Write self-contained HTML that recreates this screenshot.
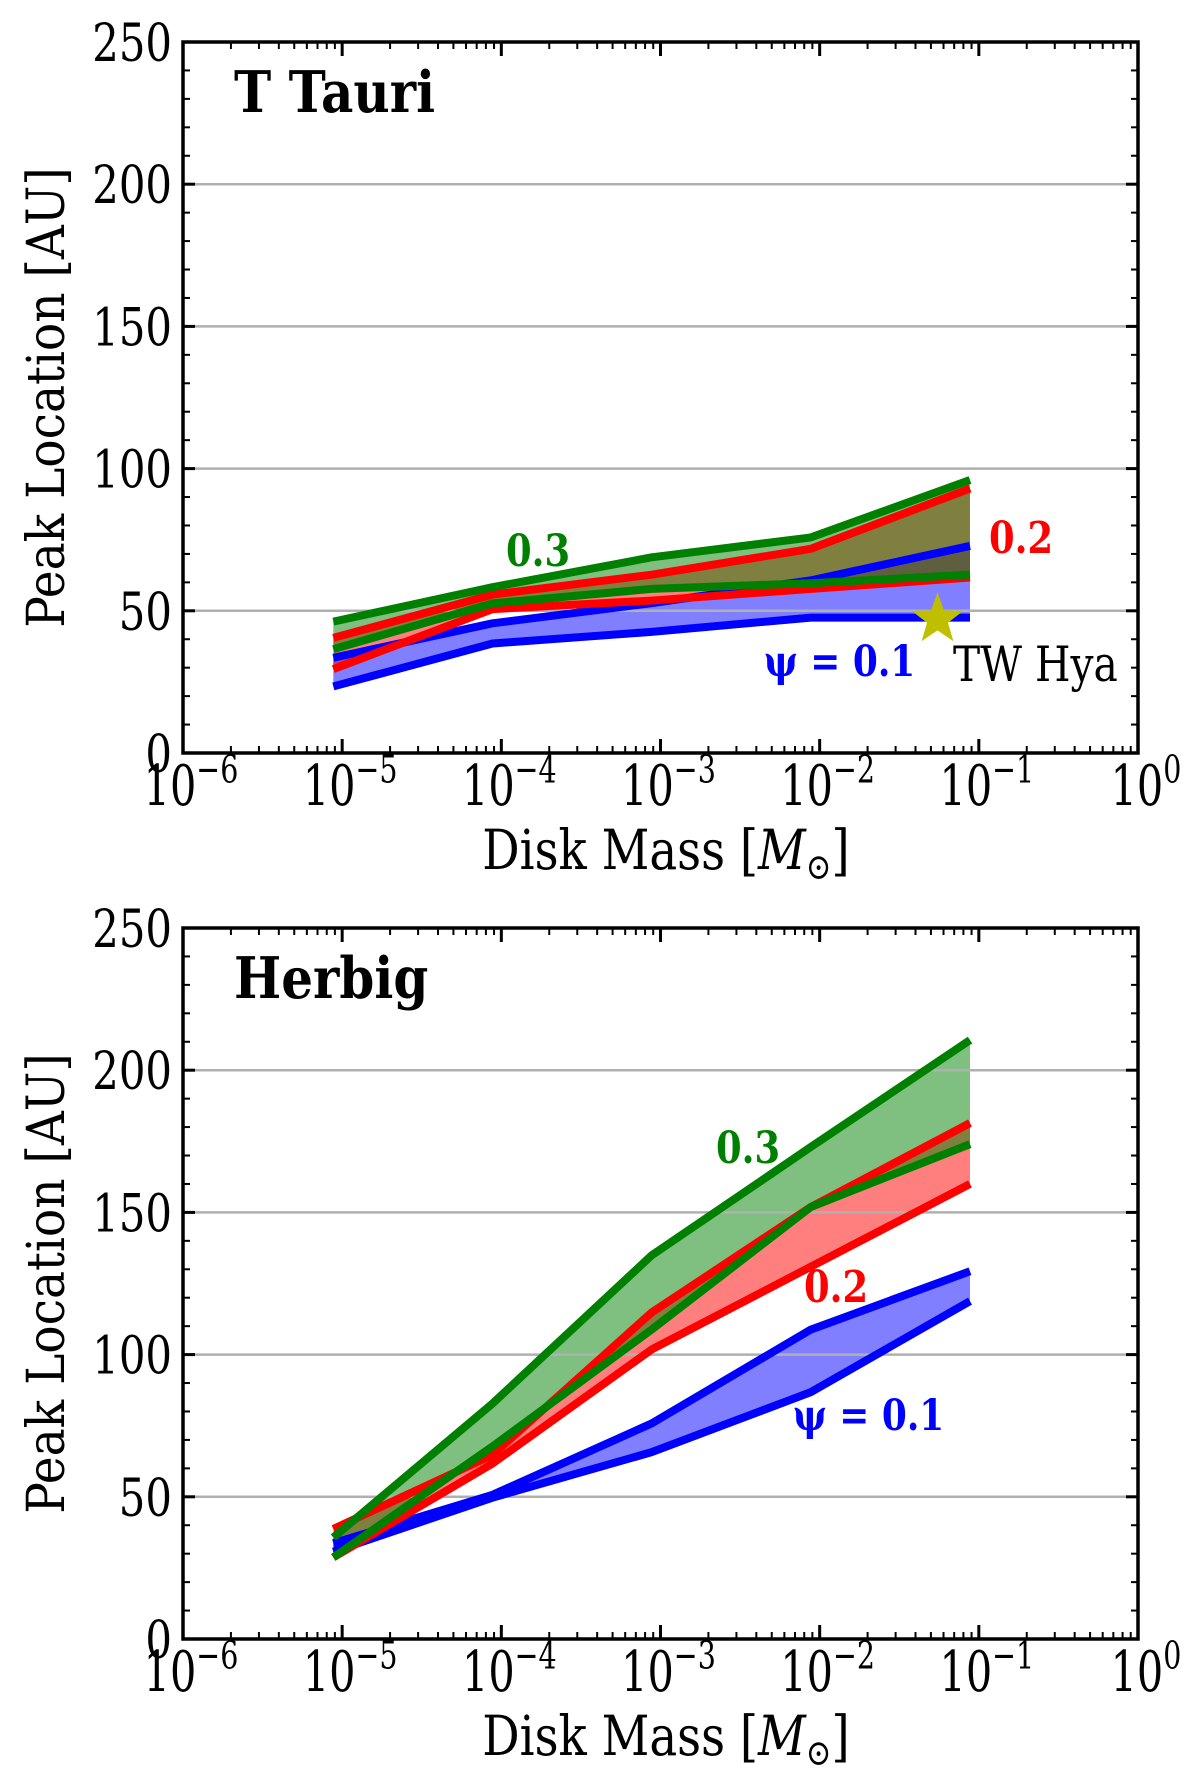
<!DOCTYPE html>
<html><head><meta charset="utf-8"><style>
html,body{margin:0;padding:0;background:#fff;}
svg{display:block;font-family:"DejaVu Serif","Liberation Serif",serif;}
</style></head><body>
<svg id="fig" width="1200" height="1772" viewBox="0 0 1200 1772" xmlns="http://www.w3.org/2000/svg"></svg>
<script>
const diskMass = [8.8e-6, 8.8e-5, 8.8e-4, 8.8e-3, 8.8e-2];
const yTicks = [0, 50, 100, 150, 200, 250];
const xTickExps = [-6, -5, -4, -3, -2, -1, 0];
// T Tauri
const tt_psi01_low = [23.4, 38.5, 42.6, 47.6, 47.6];
const tt_psi01_high = [33.5, 45.6, 52.7, 60.7, 72.8];
const tt_psi02_low = [29.5, 50.6, 53.6, 57.7, 61.7];
const tt_psi02_high = [40.5, 55.7, 62.7, 71.8, 93];
const tt_psi03_low = [36.5, 52.6, 57.7, 59.7, 62.7];
const tt_psi03_high = [46.2, 58.3, 68.8, 75.8, 96];
// Herbig
const hb_psi01_low = [30.7, 49.7, 65.7, 86.8, 118.8];
const hb_psi01_high = [33.7, 50.7, 75.8, 108.8, 129.3];
const hb_psi02_low = [28.7, 61.7, 101.8, 130.9, 160];
const hb_psi02_high = [38.7, 64.7, 114.8, 151.9, 181.4];
const hb_psi03_low = [28.7, 67.7, 108.8, 151.9, 174];
const hb_psi03_high = [35.7, 82.8, 134.9, 173, 210.6];
const twHya = {mass: 0.055, peak: 47};

const NS = "http://www.w3.org/2000/svg";
const svg = document.getElementById('fig');
function mk(tag, attrs, parent, text){
  const e = document.createElementNS(NS, tag);
  for (const k in attrs) e.setAttribute(k, attrs[k]);
  if (text !== undefined) e.textContent = text;
  (parent||svg).appendChild(e);
  return e;
}
function stxt(parent, x, y, sx, sy, attrs, text){
  const g = mk('g', {transform: 'translate(' + x + ',' + y + ') scale(' + sx + ',' + sy + ')'}, parent);
  attrs.x = 0; attrs.y = 0;
  return mk('text', attrs, g, text);
}
const L = 183, R = 1138, H = 711;
function panel(top, name, title, bands, labels, star){
  const B = top + H;
  const xs = v => L + (Math.log10(v) + 6) / 6 * (R - L);
  const ys = v => B - v / 250 * H;
  const g = mk('g', {});
  
  
  const cols = [['#0000ff','rgba(0,0,255,0.5)'],['#ff0000','rgba(255,0,0,0.5)'],['#008000','rgba(0,128,0,0.5)']];
  bands.forEach((b, i) => {
    let pts = diskMass.map((m, j) => xs(m) + ',' + ys(b[1][j]));
    pts = pts.concat(diskMass.slice().reverse().map((m, j) => xs(m) + ',' + ys(b[0][diskMass.length - 1 - j])));
    const p = mk('polygon', {points: pts.join(' '), fill: cols[i][1], stroke: 'none'}, g);
    
    
  });
  yTicks.forEach(t => {
    if (t === 0 || t === 250) return;
    const l = mk('line', {x1: L, x2: R, y1: ys(t), y2: ys(t), stroke: '#b0b0b0', 'stroke-width': 2.5}, g);
    
    
  });
  bands.forEach((b, i) => {
    [0, 1].forEach(k => {
      const pts = diskMass.map((m, j) => xs(m) + ',' + ys(b[k][j])).join(' ');
      const pl = mk('polyline', {points: pts, fill: 'none', stroke: cols[i][0], 'stroke-width': 8, 'stroke-linejoin': 'round'}, g);
      
      
    });
  });
  if (star){
    const cx = xs(twHya.mass), cy = ys(twHya.peak), r1 = 27, r2 = 11;
    let pts = [];
    for (let k = 0; k < 10; k++){
      const a = -Math.PI/2 + k * Math.PI / 5, r = k % 2 ? r2 : r1;
      pts.push((cx + r*Math.cos(a)) + ',' + (cy + r*Math.sin(a)));
    }
    const s = mk('polygon', {points: pts.join(' '), fill: '#bfbf00'}, g);
    
    
  }
  const tg = mk('g', {stroke: '#000', 'stroke-width': 2}, g);
  yTicks.forEach(t => {
    mk('line', {x1: L, x2: L + 12, y1: ys(t), y2: ys(t), 'stroke-width': 3}, tg);
    mk('line', {x1: R - 12, x2: R, y1: ys(t), y2: ys(t), 'stroke-width': 3}, tg);
  });
  for (let t = 10; t < 250; t += 10){
    if (t % 50 === 0) continue;
    mk('line', {x1: L, x2: L + 7, y1: ys(t), y2: ys(t)}, tg);
    mk('line', {x1: R - 7, x2: R, y1: ys(t), y2: ys(t)}, tg);
  }
  for (let e = -6; e <= 0; e++){
    const x = xs(Math.pow(10, e));
    mk('line', {x1: x, x2: x, y1: B, y2: B - 14, 'stroke-width': 3}, tg);
    mk('line', {x1: x, x2: x, y1: top, y2: top + 14, 'stroke-width': 3}, tg);
    if (e < 0) for (let k = 2; k <= 9; k++){
      const xm = xs(k * Math.pow(10, e));
      mk('line', {x1: xm, x2: xm, y1: B, y2: B - 7}, tg);
      mk('line', {x1: xm, x2: xm, y1: top, y2: top + 7}, tg);
    }
  }
  const fr = mk('rect', {x: L, y: top, width: R - L, height: H, fill: 'none', stroke: '#000', 'stroke-width': 3.5}, g);
  
  
  yTicks.forEach(t => {
    const tx = stxt(g, 172, ys(t) + 19, 0.95, 1.2, {'text-anchor': 'end', 'font-size': 44}, String(t));
    
    
  });
  xTickExps.forEach(e => {
    const x = xs(Math.pow(10, e));
    const tx = stxt(g, x + 8, B + 52, 0.92, 1.25, {'text-anchor': 'middle', 'font-size': 45});
    
    
    mk('tspan', {}, tx, '10');
    mk('tspan', {dy: -18, 'font-size': 31}, tx, (e < 0 ? '\u2212' : '') + Math.abs(e));
  });
  const yg = mk('g', {transform: 'translate(64,' + (top + H/2) + ') rotate(-90) scale(1.12,1.25)'}, g);
  const yt = mk('text', {x: 0, y: 0, 'text-anchor': 'middle', 'font-size': 42}, yg, 'Peak Location [AU]');
  
  
  const xt = stxt(g, 666, B + 116, 1.06, 1.25, {'text-anchor': 'middle', 'font-size': 44});
  
  
  mk('tspan', {}, xt, 'Disk Mass [');
  mk('tspan', {'font-style': 'italic'}, xt, 'M');
  mk('tspan', {dy: 8, 'font-size': 29}, xt, '\u2299');
  mk('tspan', {dy: -8}, xt, ']');
  const ti = stxt(g, 234, top + 70, 1.0, 1.15, {'font-size': 50, 'font-weight': 'bold'}, title);
  
  
  labels.forEach(lb => {
    const t = stxt(g, lb[0], lb[1], 0.97, 1.15, {'font-size': lb[4], 'font-weight': lb[5], fill: lb[3]}, lb[2]);
    
    
  });
}
panel(42, 'ttauri-panel', 'T Tauri',
  [[tt_psi01_low, tt_psi01_high, 'psi-0.1'], [tt_psi02_low, tt_psi02_high, 'psi-0.2'], [tt_psi03_low, tt_psi03_high, 'psi-0.3']],
  [[506, 566, '0.3', '#008000', 38, 'bold', 'label-psi-0.3'],
   [989, 553, '0.2', '#ff0000', 38, 'bold', 'label-psi-0.2'],
   [764, 676, '\u03c8 = 0.1', '#0000ff', 37, 'bold', 'label-psi-0.1'],
   [953, 681, 'TW Hya', '#000', 42, 'normal', 'label-tw-hya']], true);
panel(928, 'herbig-panel', 'Herbig',
  [[hb_psi01_low, hb_psi01_high, 'psi-0.1'], [hb_psi02_low, hb_psi02_high, 'psi-0.2'], [hb_psi03_low, hb_psi03_high, 'psi-0.3']],
  [[716, 1163, '0.3', '#008000', 38, 'bold', 'label-psi-0.3'],
   [804, 1302, '0.2', '#ff0000', 38, 'bold', 'label-psi-0.2'],
   [793, 1430, '\u03c8 = 0.1', '#0000ff', 37, 'bold', 'label-psi-0.1']], false);
</script>
</body></html>
